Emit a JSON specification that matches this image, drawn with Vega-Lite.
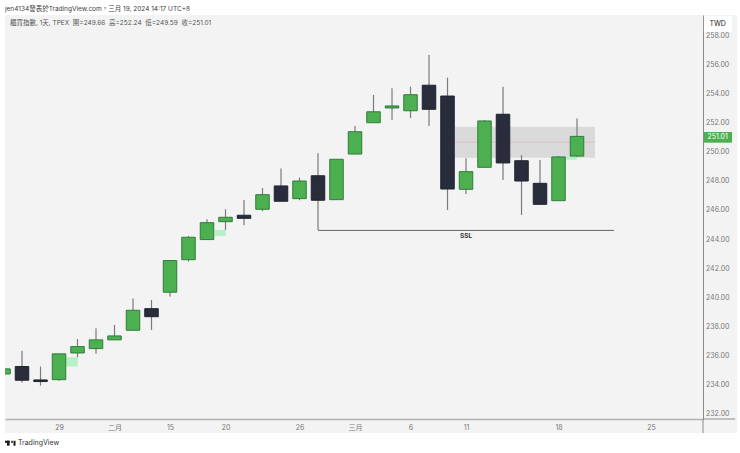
{
  "$schema": "https://vega.github.io/schema/vega-lite/v6.json",
  "width": 698,
  "height": 404,
  "autosize": {"type": "none"},
  "padding": {"left": 5, "top": 15, "right": 37, "bottom": 34},
  "background": "#f3f3f3",
  "config": {
    "view": {"stroke": null},
    "font": "Inter, Noto Sans CJK TC",
    "axis": {"ticks": false, "grid": false, "title": null}
  },
  "datasets": {
    "strips": [
      {"x0": -0.19, "x1": 39.81, "y0": 259.34, "y1": 260.37},
      {"x0": -0.19, "x1": 39.81, "y0": 229.29, "y1": 230.66},
      {"x0": 39.65, "x1": 39.81, "y0": 229.29, "y1": 260.37},
      {"x0": -0.19, "x1": 0.08, "y0": 229.29, "y1": 260.37}
    ],
    "candles": [
      {"bar": 0, "open": 234.71, "close": 235.06, "high": 235.06, "low": 234.71},
      {"bar": 1, "open": 235.22, "close": 234.28, "high": 236.31, "low": 234.12},
      {"bar": 2, "open": 234.3, "close": 234.19, "high": 235.22, "low": 233.91},
      {"bar": 3, "open": 234.32, "close": 236.09, "high": 236.09, "low": 234.25},
      {"bar": 4, "open": 236.15, "close": 236.59, "high": 237.11, "low": 235.86},
      {"bar": 5, "open": 236.45, "close": 237.05, "high": 237.85, "low": 236.09},
      {"bar": 6, "open": 237.05, "close": 237.32, "high": 238.07, "low": 237.05},
      {"bar": 7, "open": 237.71, "close": 239.08, "high": 239.88, "low": 237.71},
      {"bar": 8, "open": 239.19, "close": 238.64, "high": 239.79, "low": 237.73},
      {"bar": 9, "open": 240.32, "close": 242.49, "high": 242.53, "low": 240.02},
      {"bar": 10, "open": 242.55, "close": 244.09, "high": 244.18, "low": 242.42},
      {"bar": 11, "open": 243.93, "close": 245.09, "high": 245.32, "low": 243.93},
      {"bar": 12, "open": 245.16, "close": 245.46, "high": 246.01, "low": 244.59},
      {"bar": 13, "open": 245.6, "close": 245.39, "high": 246.65, "low": 244.91},
      {"bar": 14, "open": 246.01, "close": 247.01, "high": 247.47, "low": 245.87},
      {"bar": 15, "open": 247.61, "close": 246.56, "high": 248.8, "low": 246.56},
      {"bar": 16, "open": 246.74, "close": 247.95, "high": 248.18, "low": 246.63},
      {"bar": 17, "open": 248.31, "close": 246.63, "high": 249.85, "low": 244.59},
      {"bar": 18, "open": 246.67, "close": 249.44, "high": 249.44, "low": 246.67},
      {"bar": 19, "open": 249.8, "close": 251.33, "high": 251.72, "low": 249.8},
      {"bar": 20, "open": 251.95, "close": 252.7, "high": 253.85, "low": 251.95},
      {"bar": 21, "open": 252.96, "close": 253.1, "high": 254.31, "low": 252.14},
      {"bar": 22, "open": 252.77, "close": 253.87, "high": 254.42, "low": 252.27},
      {"bar": 23, "open": 254.52, "close": 252.87, "high": 256.59, "low": 251.72},
      {"bar": 24, "open": 253.78, "close": 247.4, "high": 255.04, "low": 245.96},
      {"bar": 25, "open": 247.38, "close": 248.59, "high": 249.51, "low": 247.06},
      {"bar": 26, "open": 248.89, "close": 252.07, "high": 252.14, "low": 248.89},
      {"bar": 27, "open": 252.53, "close": 249.19, "high": 254.42, "low": 248.02},
      {"bar": 28, "open": 249.34, "close": 247.95, "high": 249.73, "low": 245.62},
      {"bar": 29, "open": 247.79, "close": 246.35, "high": 249.39, "low": 246.35},
      {"bar": 30, "open": 246.6, "close": 249.6, "high": 249.67, "low": 246.6},
      {"bar": 31, "open": 249.66, "close": 251.01, "high": 252.24, "low": 249.59}
    ],
    "gaps": [
      {"x0": 3.38, "x1": 4.01, "y0": 235.22, "y1": 235.86},
      {"x0": 11.43, "x1": 12.01, "y0": 244.18, "y1": 244.59},
      {"x0": 30.4, "x1": 31, "y0": 249.41, "y1": 249.62}
    ],
    "priceTicks": [
      {"bar": 37.97, "price": 232},
      {"bar": 37.97, "price": 234},
      {"bar": 37.97, "price": 236},
      {"bar": 37.97, "price": 238},
      {"bar": 37.97, "price": 240},
      {"bar": 37.97, "price": 242},
      {"bar": 37.97, "price": 244},
      {"bar": 37.97, "price": 246},
      {"bar": 37.97, "price": 248},
      {"bar": 37.97, "price": 250},
      {"bar": 37.97, "price": 252},
      {"bar": 37.97, "price": 254},
      {"bar": 37.97, "price": 256},
      {"bar": 37.97, "price": 258}
    ],
    "labels": [
      {"bar": 0.081, "price": 259.78, "label": "jen4134發表於TradingView.com，三月 19, 2024 14:17 UTC+8", "kind": "header"},
      {"bar": 0.35, "price": 258.79, "label": "櫃買指數, 1天, TPEX\u00a0\u00a0開=249.66\u00a0\u00a0高=252.24\u00a0\u00a0低=249.59\u00a0\u00a0收=251.01", "kind": "legend"},
      {"bar": 25, "price": 244.18, "label": "SSL", "kind": "ssl"},
      {"bar": 38.6, "price": 250.95, "label": "251.01", "kind": "tag"},
      {"bar": 38.6, "price": 258.72, "label": "TWD", "kind": "currency"},
      {"bar": 0.78, "price": 229.98, "label": "TradingView", "kind": "brand"}
    ]
  },
  "layer": [
    {
      "data": {"name": "strips"},
      "mark": {"type": "rect", "color": "#ffffff"},
      "encoding": {
        "x": {
          "field": "x0",
          "type": "quantitative",
          "scale": {"domain": [0.081, 37.81], "nice": false, "zero": false, "padding": 0},
          "axis": {
            "values": [3, 6, 9, 12, 16, 19, 22, 25, 30, 35],
            "labelExpr": "{'3':'29','6':'二月','9':'15','12':'20','16':'26','19':'三月','22':'6','25':'11','30':'18','35':'25'}[datum.value]",
            "labelColor": "#777777",
            "labelFontSize": 7,
            "labelPadding": 4,
            "labelFlush": false,
            "labelOverlap": false,
            "domainColor": "#b0b0b0",
            "domainWidth": 1.5
          }
        },
        "x2": {"field": "x1"},
        "y": {
          "field": "y0",
          "type": "quantitative",
          "scale": {"domain": [231.62, 259.34], "nice": false, "zero": false},
          "axis": {
            "orient": "right",
            "labels": false,
            "domainColor": "#8a8a8a",
            "domainWidth": 1
          }
        },
        "y2": {"field": "y1"}
      }
    },
    {
      "data": {"values": [{"x0": 24.41, "x1": 31.97, "y0": 249.55, "y1": 251.68}]},
      "mark": {"type": "rect", "color": "#dadada"},
      "encoding": {
        "x": {"field": "x0", "type": "quantitative"},
        "x2": {"field": "x1"},
        "y": {"field": "y0", "type": "quantitative"},
        "y2": {"field": "y1"}
      }
    },
    {
      "data": {"values": [{"x0": 24.41, "x1": 31.97, "y0": 250.61}]},
      "mark": {"type": "rule", "color": "#d9b4bb", "strokeWidth": 0.7},
      "encoding": {
        "x": {"field": "x0", "type": "quantitative"},
        "x2": {"field": "x1"},
        "y": {"field": "y0", "type": "quantitative"}
      }
    },
    {
      "data": {"name": "gaps"},
      "mark": {"type": "rect", "color": "#b6f0c6"},
      "encoding": {
        "x": {"field": "x0", "type": "quantitative"},
        "x2": {"field": "x1"},
        "y": {"field": "y0", "type": "quantitative"},
        "y2": {"field": "y1"}
      }
    },
    {
      "data": {"values": [{"x0": 17, "x1": 33, "y0": 244.56}]},
      "mark": {"type": "rule", "color": "#666666", "strokeWidth": 1},
      "encoding": {
        "x": {"field": "x0", "type": "quantitative"},
        "x2": {"field": "x1"},
        "y": {"field": "y0", "type": "quantitative"}
      }
    },
    {
      "data": {"name": "candles"},
      "mark": {"type": "rule", "color": "#7b7b7b", "strokeWidth": 1.2, "clip": true},
      "encoding": {
        "x": {"field": "bar", "type": "quantitative"},
        "y": {"field": "low", "type": "quantitative"},
        "y2": {"field": "high"}
      }
    },
    {
      "data": {"name": "candles"},
      "transform": [{"filter": "datum.close >= datum.open"}],
      "mark": {"type": "bar", "size": 13.5, "strokeWidth": 1, "clip": true, "fill": "#4caf50", "stroke": "#2f7d3b"},
      "encoding": {
        "x": {"field": "bar", "type": "quantitative"},
        "y": {"field": "open", "type": "quantitative"},
        "y2": {"field": "close"}
      }
    },
    {
      "data": {"name": "candles"},
      "transform": [{"filter": "datum.close < datum.open"}],
      "mark": {"type": "bar", "size": 13.5, "strokeWidth": 1, "clip": true, "fill": "#282c3b", "stroke": "#1f2330"},
      "encoding": {
        "x": {"field": "bar", "type": "quantitative"},
        "y": {"field": "open", "type": "quantitative"},
        "y2": {"field": "close"}
      }
    },
    {
      "data": {"name": "priceTicks"},
      "mark": {"type": "text", "align": "left", "baseline": "middle", "dy": 1, "fontSize": 7, "color": "#777777"},
      "encoding": {
        "x": {"field": "bar", "type": "quantitative"},
        "y": {"field": "price", "type": "quantitative"},
        "text": {"field": "price", "type": "quantitative", "format": ".2f"}
      }
    },
    {
      "data": {"values": [{"x0": 37.86, "x1": 39.38, "y0": 258.17, "y1": 259.27}]},
      "mark": {"type": "rect", "color": "#ffffff"},
      "encoding": {
        "x": {"field": "x0", "type": "quantitative"},
        "x2": {"field": "x1"},
        "y": {"field": "y0", "type": "quantitative"},
        "y2": {"field": "y1"}
      }
    },
    {
      "data": {"values": [{"x0": 37.86, "x1": 39.38, "y0": 250.58, "y1": 251.31}]},
      "mark": {"type": "rect", "color": "#4caf50"},
      "encoding": {
        "x": {"field": "x0", "type": "quantitative"},
        "x2": {"field": "x1"},
        "y": {"field": "y0", "type": "quantitative"},
        "y2": {"field": "y1"}
      }
    },
    {
      "data": {"values": [{"x0": 37.81, "x1": 37.81, "y0": 230.66, "y1": 231.62}, {"x0": 37.81, "x1": 39.55, "y0": 231.62, "y1": 231.62}]},
      "mark": {"type": "rule", "color": "#8a8a8a", "strokeWidth": 1},
      "encoding": {
        "x": {"field": "x0", "type": "quantitative"},
        "x2": {"field": "x1"},
        "y": {"field": "y0", "type": "quantitative"},
        "y2": {"field": "y1"}
      }
    },
    {
      "data": {"name": "labels"},
      "transform": [{"filter": "datum.kind === 'header'"}],
      "mark": {"type": "text", "align": "left", "baseline": "middle", "fontSize": 6.5, "color": "#3c3c3c"},
      "encoding": {
        "x": {"field": "bar", "type": "quantitative"},
        "y": {"field": "price", "type": "quantitative"},
        "text": {"field": "label"}
      }
    },
    {
      "data": {"name": "labels"},
      "transform": [{"filter": "datum.kind === 'legend'"}],
      "mark": {"type": "text", "align": "left", "baseline": "middle", "fontSize": 6.5, "color": "#555555"},
      "encoding": {
        "x": {"field": "bar", "type": "quantitative"},
        "y": {"field": "price", "type": "quantitative"},
        "text": {"field": "label"}
      }
    },
    {
      "data": {"name": "labels"},
      "transform": [{"filter": "datum.kind === 'ssl'"}],
      "mark": {"type": "text", "align": "center", "baseline": "middle", "fontSize": 6.5, "fontWeight": "bold", "color": "#333333"},
      "encoding": {
        "x": {"field": "bar", "type": "quantitative"},
        "y": {"field": "price", "type": "quantitative"},
        "text": {"field": "label"}
      }
    },
    {
      "data": {"name": "labels"},
      "transform": [{"filter": "datum.kind === 'tag'"}],
      "mark": {"type": "text", "align": "center", "baseline": "middle", "fontSize": 7, "color": "#ffffff"},
      "encoding": {
        "x": {"field": "bar", "type": "quantitative"},
        "y": {"field": "price", "type": "quantitative"},
        "text": {"field": "label"}
      }
    },
    {
      "data": {"name": "labels"},
      "transform": [{"filter": "datum.kind === 'currency'"}],
      "mark": {"type": "text", "align": "center", "baseline": "middle", "fontSize": 7, "color": "#222222"},
      "encoding": {
        "x": {"field": "bar", "type": "quantitative"},
        "y": {"field": "price", "type": "quantitative"},
        "text": {"field": "label"}
      }
    },
    {
      "data": {"name": "labels"},
      "transform": [{"filter": "datum.kind === 'brand'"}],
      "mark": {"type": "text", "align": "left", "baseline": "middle", "fontSize": 7, "color": "#333333"},
      "encoding": {
        "x": {"field": "bar", "type": "quantitative"},
        "y": {"field": "price", "type": "quantitative"},
        "text": {"field": "label"}
      }
    },
    {
      "data": {"values": [
        {"x0": 0.08, "x1": 0.33, "y0": 229.98, "y1": 230.13},
        {"x0": 0.19, "x1": 0.33, "y0": 229.79, "y1": 230.13},
        {"x0": 0.42, "x1": 0.5, "y0": 229.98, "y1": 230.13},
        {"x0": 0.54, "x1": 0.65, "y0": 229.79, "y1": 230.13}
      ]},
      "mark": {"type": "rect", "color": "#1e1e1e"},
      "encoding": {
        "x": {"field": "x0", "type": "quantitative"},
        "x2": {"field": "x1"},
        "y": {"field": "y0", "type": "quantitative"},
        "y2": {"field": "y1"}
      }
    }
  ]
}
